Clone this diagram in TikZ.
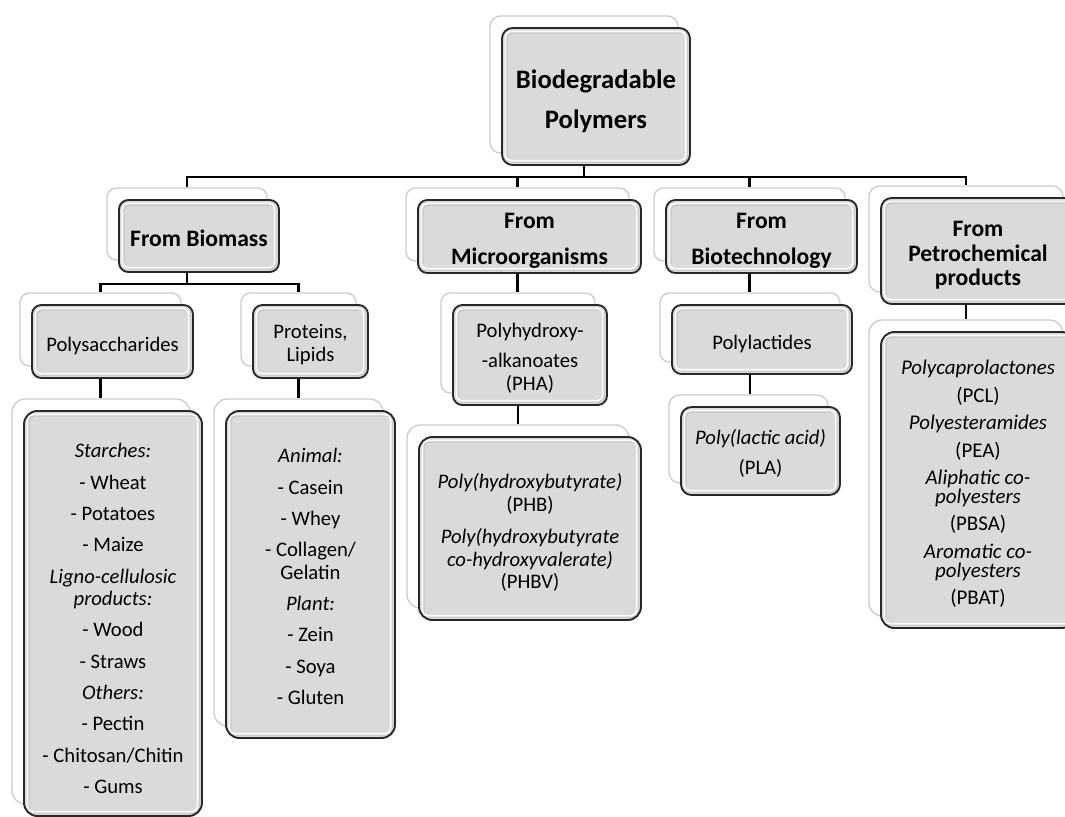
\documentclass[tikz,border=0pt]{standalone}
\usepackage{fontspec}
\setmainfont{Carlito}
\pgfdeclarelayer{bg}
\pgfsetlayers{bg,main}
\definecolor{boxfill}{RGB}{218,218,218}
\definecolor{boxline}{RGB}{40,40,40}
\definecolor{backline}{RGB}{205,205,205}
\newcommand\ftitle{\bfseries\fontsize{20}{30}\selectfont}
\newcommand\fhead{\bfseries\fontsize{17.7}{18.4}\selectfont}
\newcommand\fheadw{\bfseries\fontsize{17.7}{27}\selectfont}
\newcommand\fsub{\fontsize{15.5}{17.3}\selectfont}
\newcommand\flist{\fontsize{15.5}{16.9}\selectfont\lineskiplimit=-20pt}
\newcommand\fpetro{\fontsize{15.7}{14.25}\selectfont\lineskiplimit=-20pt}
\newcommand\pgap{\\[6.6pt]}
\tikzset{
  frontbox/.style={draw=boxline, line width=1.4pt, fill=boxfill, inner sep=0pt,
    path picture={
      \draw[gray!60, line width=1.2pt, opacity=0.5, rounded corners=4pt]
        ([xshift=3.6pt,yshift=2.4pt]path picture bounding box.south west) rectangle
        ([xshift=-2.4pt,yshift=-3.6pt]path picture bounding box.north east);
      \draw[white, line width=1.4pt, opacity=0.9, rounded corners=4pt]
        ([xshift=2.6pt,yshift=3.2pt]path picture bounding box.south west) rectangle
        ([xshift=-3.2pt,yshift=-2.6pt]path picture bounding box.north east);}},
  backbox/.style={draw=backline, line width=1pt, fill=white, inner sep=0pt},
  boxtext/.style={align=center, inner sep=0pt, text=black},
  conn/.style={line width=2.2pt, draw=black}
}
% #1 name, #2 x1, #3 y1, #4 x2, #5 y2 (front box, px), #6 radius, #7 font, #8 text, #9 text y shift (px)
\newcommand\mkbox[9]{%
  \node[backbox, rounded corners=#6,
        minimum width={(#4-#2)*0.75pt}, minimum height={(#5-#3)*0.75pt}]
        (#1B) at ({(#2+#4)/2-12},{(#3+#5)/2-12}) {};
  \node[frontbox, rounded corners=#6,
        minimum width={(#4-#2)*0.75pt}, minimum height={(#5-#3)*0.75pt}]
        (#1) at ({(#2+#4)/2},{(#3+#5)/2}) {};
  \node[boxtext, font=#7] (#1T) at ({(#2+#4)/2},{(#3+#5)/2+#9}) {#8};
}
\begin{document}
\begin{tikzpicture}[x=0.75pt, y=-0.75pt]
\useasboundingbox (0,0) rectangle (1065,817);
\coordinate (bus) at (0,177);
\coordinate (sub) at (0,284);

\mkbox{title}{502}{28}{690}{165}{8pt}{\ftitle}{Biodegradable\\Polymers}{5}

\mkbox{bio}{119}{200}{279}{272}{7pt}{\fhead}{From Biomass}{2}
\mkbox{micro}{418}{200}{641}{273}{7pt}{\fheadw}{From\\Microorganisms}{4}
\mkbox{biotech}{666}{200}{857}{273}{7pt}{\fheadw}{From\\Biotechnology}{4}
\mkbox{petro}{881}{198}{1075}{304}{8pt}{\fhead}{From\\Petrochemical\\products}{4.5}

\mkbox{poly}{32}{305}{193}{378}{7pt}{\fsub}{Polysaccharides}{4}
\mkbox{prot}{253}{305}{368}{378}{7pt}{\fsub}{Proteins,\\Lipids}{3}
\mkbox{pha}{453}{305}{607}{405}{7pt}{\fsub}{Polyhydroxy-\\[5.2pt]-alkanoates\\(PHA)}{3.5}
\mkbox{plac}{672}{305}{852}{374}{7pt}{\fsub}{Polylactides}{4}

\mkbox{starch}{24}{411}{202}{816}{10pt}{\flist}{\textit{Starches:}\pgap - Wheat\pgap - Potatoes\pgap - Maize\pgap \textit{Ligno-cellulosic}\\\textit{products:}\pgap - Wood\pgap - Straws\pgap \textit{Others:}\pgap - Pectin\pgap - Chitosan/Chitin\pgap - Gums}{5}
\mkbox{plist}{226}{411}{395}{738}{10pt}{\flist}{\textit{Animal:}\pgap - Casein\pgap - Whey\pgap - Collagen/\\Gelatin\pgap \textit{Plant:}\pgap - Zein\pgap - Soya\pgap - Gluten}{2}
\mkbox{phb}{419}{437}{641}{620}{10pt}{\flist}{\textit{Poly(hydroxybutyrate)}\\(PHB)\\[7.5pt]\textit{Poly(hydroxybutyrate}\\\textit{co-hydroxyvalerate)}\\(PHBV)}{4}
\mkbox{pla}{681}{407}{840}{495}{8pt}{\flist}{\textit{Poly(lactic acid)}\\[5.6pt](PLA)}{2.5}
\mkbox{petrol}{881}{332}{1075}{628}{10pt}{\fpetro}{\textit{Polycaprolactones}\\[6.3pt](PCL)\\[6.3pt]\textit{Polyesteramides}\\[6.3pt](PEA)\\[6.3pt]\textit{Aliphatic co-}\\\textit{polyesters}\\[6.3pt](PBSA)\\[6.3pt]\textit{Aromatic co-}\\\textit{polyesters}\\[6.3pt](PBAT)}{4}

\begin{pgfonlayer}{bg}
  \draw[conn] (titleB |- title.south) -- (titleB |- bus);
  \draw[conn] (bioB.north) -- (bioB |- bus) -- (petroB |- bus) -- (petroB.north);
  \draw[conn] (microB |- bus) -- (microB.north);
  \draw[conn] (biotechB |- bus) -- (biotechB.north);
  \draw[conn] (bioB |- bio.south) -- (bioB |- sub);
  \draw[conn] (polyB.north) -- (polyB |- sub) -- (protB |- sub) -- (protB.north);
  \draw[conn] (polyB |- poly.south) -- (polyB |- starchB.north);
  \draw[conn] (protB |- prot.south) -- (protB |- plistB.north);
  \draw[conn] (microB |- micro.south) -- (microB |- phaB.north);
  \draw[conn] (phaB |- pha.south) -- (phaB |- phbB.north);
  \draw[conn] (biotechB |- biotech.south) -- (biotechB |- placB.north);
  \draw[conn] (placB |- plac.south) -- (placB |- plaB.north);
  \draw[conn] (petroB |- petro.south) -- (petroB |- petrolB.north);
\end{pgfonlayer}
\end{tikzpicture}
\end{document}
